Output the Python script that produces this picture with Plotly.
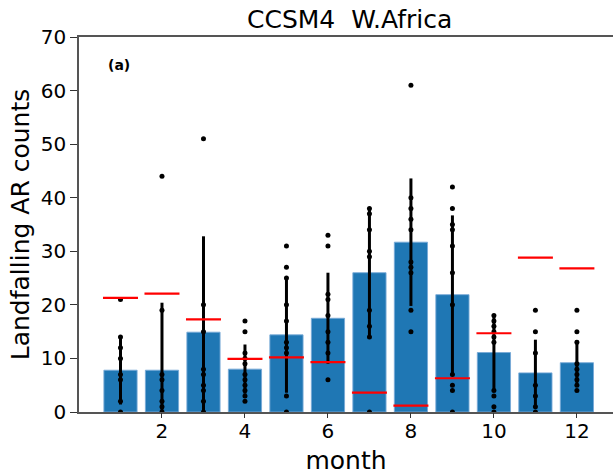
import plotly.graph_objects as go

months = list(range(1, 13))
ens_mean = [7.8, 7.8, 14.9, 8.0, 14.4, 17.5, 26.0, 31.7, 21.9, 11.1, 7.3, 9.2]
ens_std = [6.4, 12.6, 17.9, 4.6, 10.8, 8.5, 12.0, 11.9, 14.8, 7.1, 6.2, 4.2]
obs = [21.3, 22.1, 17.3, 9.9, 10.2, 9.3, 3.6, 1.2, 6.3, 14.7, 28.8, 26.8]
members = [
    [21, 14, 12, 10, 7, 6, 2, 0],
    [44, 19, 7, 6, 4, 2, 1, 0],
    [51, 20, 15, 8, 7, 5, 4, 2, 0],
    [17, 15, 11, 10, 9, 7, 6, 5, 4, 3, 2],
    [31, 27, 25, 20, 17, 13, 12, 11, 3, 0],
    [33, 31, 22, 21, 18, 15, 13, 11, 6],
    [38, 37, 34, 30, 29, 19, 16, 14, 0],
    [61, 40, 38, 36, 34, 28, 27, 26, 19, 15],
    [42, 38, 35, 34, 31, 26, 20, 7, 5, 4, 0],
    [18, 17, 16, 15, 14, 13, 4, 3, 1, 0],
    [19, 15, 11, 5, 3, 1, 0],
    [19, 15, 13, 9, 8, 7, 6, 5, 4],
]
xtick_vals = [2, 4, 6, 8, 10, 12]
ytick_vals = [0, 10, 20, 30, 40, 50, 60, 70]

dot_x = [m for m, vals in zip(months, members) for _ in vals]
dot_y = [v for vals in members for v in vals]

FONT = "DejaVu Sans"
W, H = 613, 475
L, R, T, B = 79, 0, 37, 63
pw = W - L - R
ph = H - T - B
XR = [0, 12.87]

fig = go.Figure()
fig.add_trace(go.Bar(
    x=months, y=ens_mean, width=0.8,
    marker=dict(color="#1f77b4", line=dict(color="rgba(120,170,215,0.9)", width=1)),
    error_y=dict(type="data", array=ens_std, visible=True, color="black",
                 thickness=3, width=0),
    showlegend=False,
))
fig.add_trace(go.Scatter(
    x=dot_x, y=dot_y, mode="markers",
    marker=dict(color="black", size=5),
    showlegend=False,
))
fig.add_trace(go.Scatter(
    x=months, y=obs, mode="markers",
    marker=dict(symbol="line-ew", size=25, line=dict(color="red", width=2.2), color="red"),
    showlegend=False,
))
# helper trace so the tick-mark axis is drawn
fig.add_trace(go.Scatter(x=months, y=obs, mode="none", xaxis="x2", showlegend=False,
                         hoverinfo="skip"))

fig.update_layout(
    width=W, height=H,
    margin=dict(l=L, r=R, t=T, b=B),
    plot_bgcolor="white", paper_bgcolor="white",
    font=dict(family=FONT, color="black", size=20),
    xaxis=dict(
        range=XR, tickvals=xtick_vals,
        ticks="", ticklen=0,
        showline=True, linecolor="#555", linewidth=1.5, mirror=True,
        showgrid=False, zeroline=False,
        tickfont=dict(size=20),
        title=dict(text="month", font=dict(size=25), standoff=12),
    ),
    xaxis2=dict(
        range=XR, tickvals=xtick_vals, overlaying="x", side="bottom",
        ticks="outside", ticklen=5, tickcolor="#333", tickwidth=1,
        showticklabels=False, showline=False, showgrid=False, zeroline=False,
    ),
    yaxis=dict(
        range=[0, 70], tickvals=ytick_vals,
        ticks="outside", ticklen=7, tickcolor="#333", tickwidth=1,
        showline=True, linecolor="#555", linewidth=1.5,
        showgrid=False, zeroline=False,
        tickfont=dict(size=20),
        title=dict(text="Landfalling AR counts", font=dict(size=25), standoff=4),
    ),
    annotations=[
        dict(text="CCSM4  W.Africa", x=(349 - L) / pw, xref="paper", y=1, yref="paper",
             showarrow=False, font=dict(size=25), xanchor="center", yanchor="bottom", yshift=1),
        dict(text="<b>(a)</b>", x=(118.5 - L) / pw, xref="paper", y=1 - (65 - T) / ph, yref="paper",
             showarrow=False, font=dict(size=14), xanchor="center", yanchor="middle"),
    ],
)

fig.write_html("out.html")
